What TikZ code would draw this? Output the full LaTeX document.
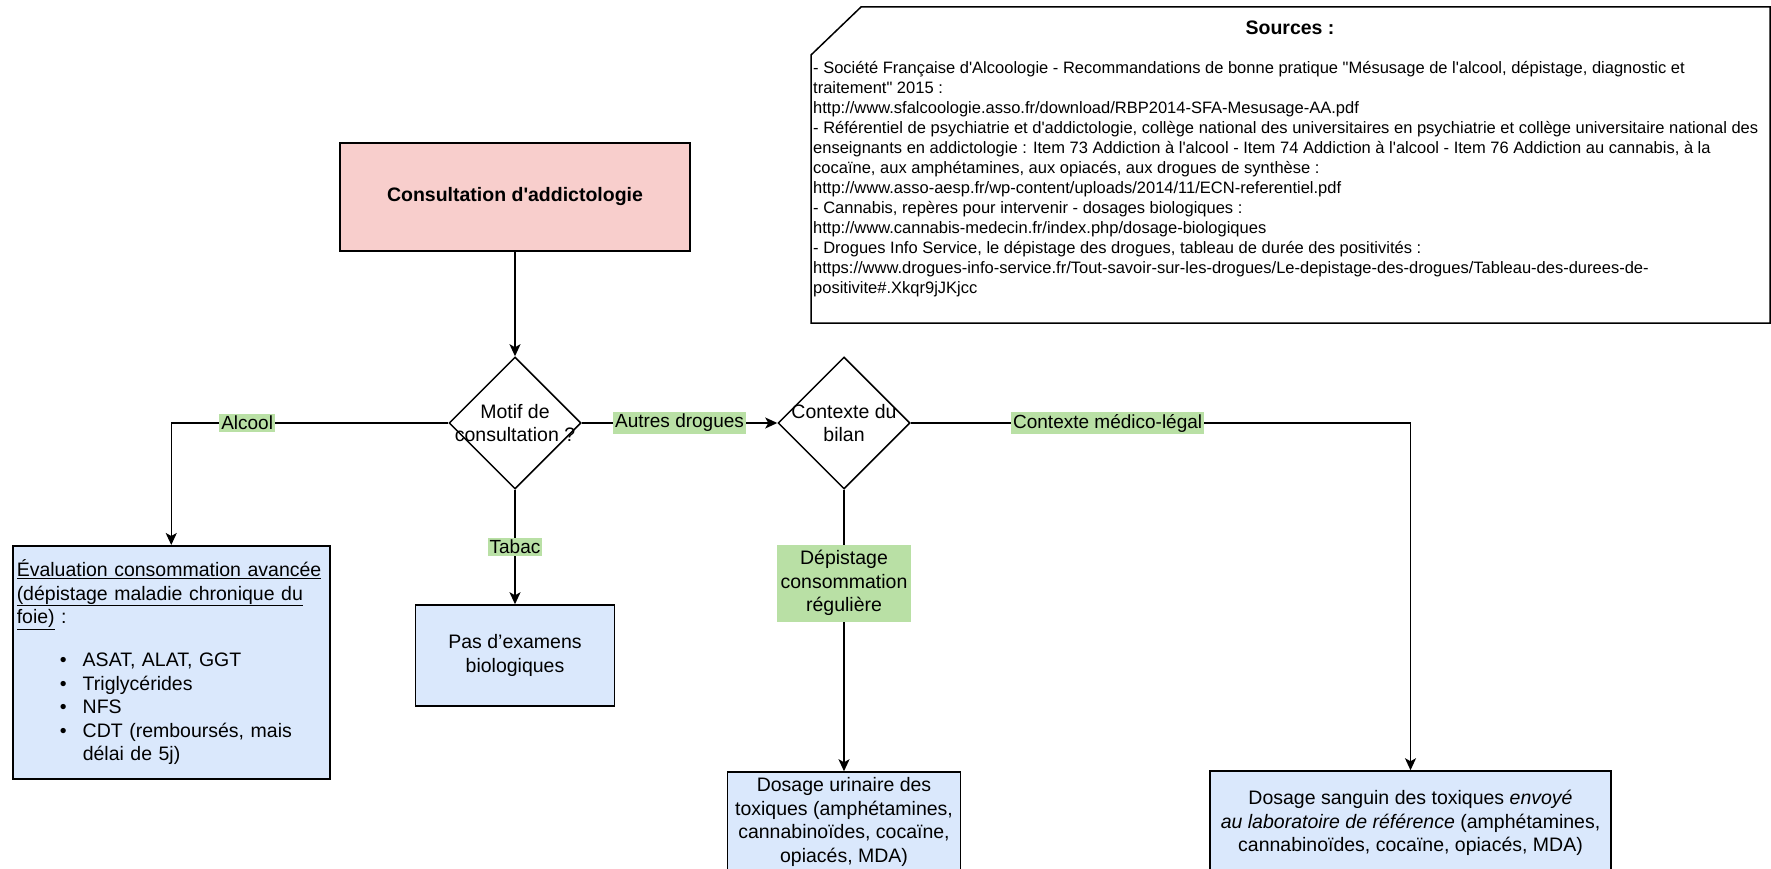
\documentclass[tikz,border=0pt]{standalone}
\usepackage{fontspec}
\setmainfont{Liberation Sans}[Ligatures=TeXOff]
\usetikzlibrary{shapes.geometric,arrows.meta}
\definecolor{rouge}{HTML}{F8CECC}
\definecolor{bleu}{HTML}{DAE8FC}
\definecolor{vert}{HTML}{B9E0A5}
\newcommand{\puce}{\makebox[66pt][r]{\textbullet\hspace{16pt}}}
\begin{document}
\begin{tikzpicture}[x=1pt,y=-1pt,
    boite/.style={draw, line width=1.5pt, align=center, inner sep=4pt,
      font=\fontsize{19.5}{23.4}\selectfont},
    losange/.style={draw, diamond, aspect=1, minimum width=132pt,
      minimum height=132pt, inner sep=0pt, line width=1.5pt},
    texte/.style={align=center, inner sep=0pt, font=\fontsize{19.5}{23.4}\selectfont},
    etiquette/.style={fill=vert, inner sep=2pt, align=center,
      font=\fontsize{19}{23.4}\selectfont},
    fleche/.style={-{Stealth[length=12pt,width=11pt,inset=3pt]}, line width=1.5pt}]
  \useasboundingbox (0,0) rectangle (1771,869);
  \clip (0,0) rectangle (1771,869);

  \node[boite, fill=rouge, minimum width=350pt, minimum height=108pt,
    font=\bfseries\fontsize{19.5}{23.4}\selectfont] (consult) at (515,197) {Consultation d'addictologie};
  \node[losange] (motif) at (515,423) {};
  \node[texte] (motiftxt) at (motif.center) {Motif de\\consultation ?};
  \node[losange] (contexte) at (844,423) {};
  \node[texte] (contextetxt) at (contexte.center) {Contexte du\\bilan};

  \node[boite, fill=bleu, anchor=north west, minimum height=233pt,
    text width=309pt, align=left] (foie) at (12,545) {%
    \underline{Évaluation consommation avancée}\\
    \underline{(dépistage maladie chronique du}\\
    \underline{foie)} :\\[20pt]
    \puce ASAT, ALAT, GGT\\
    \puce Triglycérides\\
    \puce NFS\\
    \puce CDT (remboursés, mais\\
    \hspace*{66pt}délai de 5j)};
  \node[boite, fill=bleu, minimum width=199pt, minimum height=101pt] (tabac) at (515,655.5) {Pas d’examens\\biologiques};
  \node[boite, fill=bleu, minimum width=233pt, minimum height=100pt] (urine) at (844,822) {Dosage urinaire des\\toxiques (amphétamines,\\cannabinoïdes, cocaïne,\\opiacés, MDA)};
  \node[boite, fill=bleu, minimum width=401pt, minimum height=104pt] (sang) at (1410.5,823) {Dosage sanguin des toxiques \textit{envoyé}\\\textit{au laboratoire de référence} (amphétamines,\\cannabinoïdes, cocaïne, opiacés, MDA)};

  \draw[fleche] (consult) -- (motif);
  \draw[fleche] (motif.west) -| node[etiquette, pos=0.363] (alcool) {Alcool} (foie.north);
  \draw[fleche] (motif.south) -- node[etiquette] (tabaclbl) {Tabac} (tabac.north);
  \draw[fleche] (motif.east) -- node[etiquette] (autres) {Autres drogues} (contexte.west);
  \draw[fleche] (contexte.east) -| node[etiquette, pos=0.197] (legal) {Contexte médico-légal} (sang.north);
  \draw[fleche] (contexte.south) -- node[etiquette, pos=0.332, inner xsep=4pt, inner ysep=6pt,
    font=\fontsize{19.5}{23.4}\selectfont] (depist) {Dépistage\\consommation\\régulière} (urine.north);

  % sources
  \draw[line width=1.5pt, fill=white] (811,55) -- (861,7) -- (1770,7) -- (1770,323) -- (811,323) -- cycle;
  \node[font=\bfseries\fontsize{19.5}{23.4}\selectfont] (titre) at (1290,28) {Sources :};
  \node[anchor=north west, inner sep=0pt, align=left, font=\fontsize{16.5}{20}\selectfont] (refs) at (813,61) {%
    - Société Française d'Alcoologie - Recommandations de bonne pratique "Mésusage de l'alcool, dépistage, diagnostic et\\
    traitement" 2015 :\\
    http://www.sfalcoologie.asso.fr/download/RBP2014-SFA-Mesusage-AA.pdf\\
    - Référentiel de psychiatrie et d'addictologie, collège national des universitaires en psychiatrie et collège universitaire national des\\
    enseignants en addictologie : Item 73 Addiction à l'alcool - Item 74 Addiction à l'alcool - Item 76 Addiction au cannabis, à la\\
    cocaïne, aux amphétamines, aux opiacés, aux drogues de synthèse :\\
    http://www.asso-aesp.fr/wp-content/uploads/2014/11/ECN-referentiel.pdf\\
    - Cannabis, repères pour intervenir - dosages biologiques :\\
    http://www.cannabis-medecin.fr/index.php/dosage-biologiques\\
    - Drogues Info Service, le dépistage des drogues, tableau de durée des positivités :\\
    https://www.drogues-info-service.fr/Tout-savoir-sur-les-drogues/Le-depistage-des-drogues/Tableau-des-durees-de-\\
    positivite\#.Xkqr9jJKjcc};
\end{tikzpicture}
\end{document}
